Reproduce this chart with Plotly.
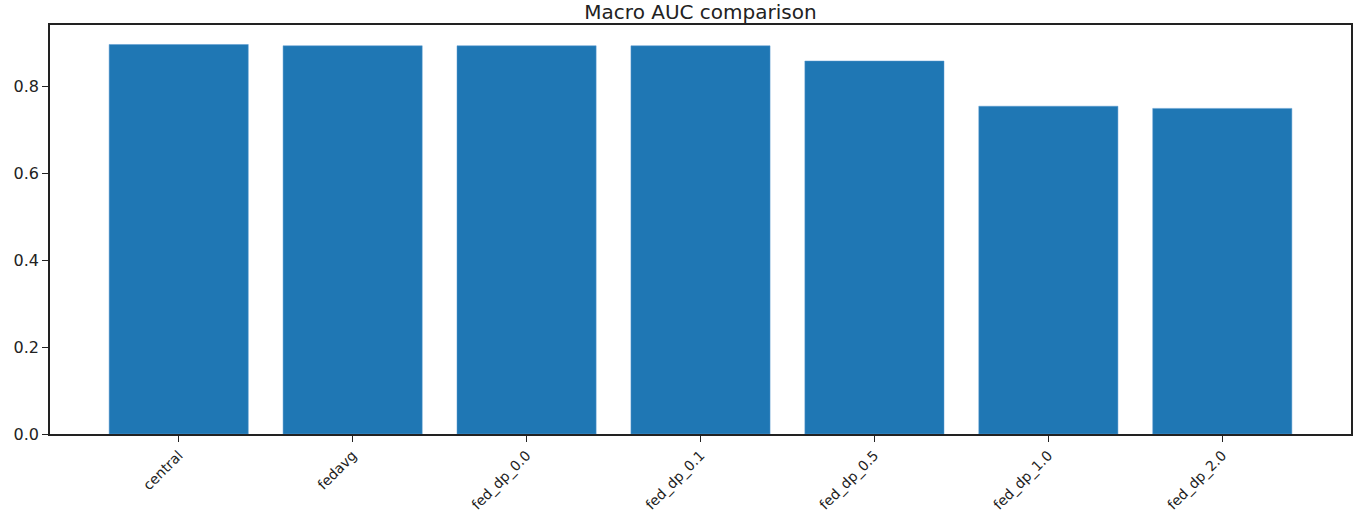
import plotly.graph_objects as go

# Macro AUC per training setup
methods = ["central", "fedavg", "fed_dp_0.0", "fed_dp_0.1",
           "fed_dp_0.5", "fed_dp_1.0", "fed_dp_2.0"]
macro_auc = [0.896, 0.893, 0.893, 0.893, 0.858, 0.754, 0.749]

y_ticks = [0.0, 0.2, 0.4, 0.6, 0.8]

fig = go.Figure(go.Bar(
    x=methods,
    y=macro_auc,
    marker=dict(color="#1f77b4", line=dict(color="#5b9bd0", width=0.5)),
))

axis_style = dict(
    showline=True, linecolor="#222", linewidth=1.5, mirror=True,
    ticks="outside", ticklen=6, tickwidth=1.2, tickcolor="#222",
    showgrid=False, zeroline=False, automargin=False,
)

fig.update_xaxes(
    **axis_style,
    tickangle=-45,
    range=[-0.74, 6.74],
    tickfont=dict(family="DejaVu Sans", size=14, color="#222"),
)
fig.update_yaxes(
    **axis_style,
    range=[0, max(macro_auc) * 1.05],
    tickvals=y_ticks,
    tickformat=".1f",
    tickfont=dict(family="DejaVu Sans", size=16, color="#222"),
)

fig.update_layout(
    title=dict(text="Macro AUC comparison", xref="paper", x=0.5, xanchor="center",
               yref="container", y=1 - 12 / 515, yanchor="middle", automargin=False,
               font=dict(family="DejaVu Sans", size=20, color="#222")),
    width=1357, height=515,
    margin=dict(l=50, r=6, t=25, b=81, autoexpand=False),
    bargap=0.2,
    plot_bgcolor="white",
    paper_bgcolor="white",
    showlegend=False,
)

# drop the default page margin so the figure sits at the window's corner
fig.write_html("out.html", config={"displayModeBar": False},
               post_script="document.body.style.margin='0';")
